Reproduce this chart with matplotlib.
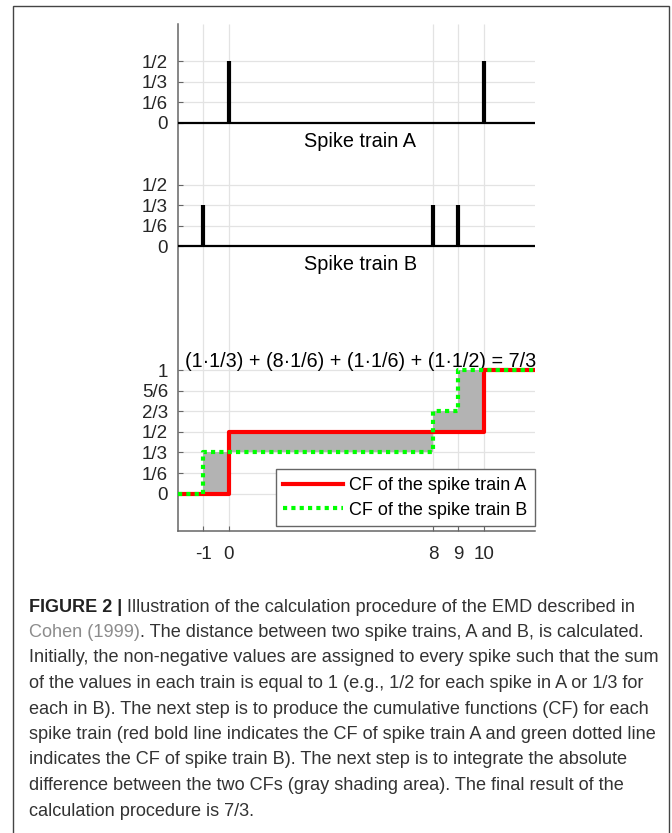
import numpy as np
import matplotlib.pyplot as plt
from matplotlib.patches import Rectangle

# spike times and the value given to each spike
spikes_a = [0, 10]
weights_a = [1/2, 1/2]
spikes_b = [-1, 8, 9]
weights_b = [1/3, 1/3, 1/3]

xticks = [-1, 0, 8, 9, 10]
xlim = (-2, 12)

# vertical offsets of the three stacked panels
base_a = 3
base_b = 2
spike_ticks = [0, 1/6, 1/3, 1/2]
spike_labels = ['0', '1/6', '1/3', '1/2']
cf_ticks = [0, 1/6, 1/3, 1/2, 2/3, 5/6, 1]
cf_labels = ['0', '1/6', '1/3', '1/2', '2/3', '5/6', '1']

formula = '(1\u00b71/3) + (8\u00b71/6) + (1\u00b71/6) + (1\u00b71/2) = 7/3'

caption = [
    [('FIGURE 2 |', 'bold', '#222222'), (' Illustration of the calculation procedure of the EMD described in', 'normal', '#333333')],
    [('Cohen (1999)', 'normal', '#8c8c8c'), ('. The distance between two spike trains, A and B, is calculated.', 'normal', '#333333')],
    [('Initially, the non-negative values are assigned to every spike such that the sum', 'normal', '#333333')],
    [('of the values in each train is equal to 1 (e.g., 1/2 for each spike in A or 1/3 for', 'normal', '#333333')],
    [('each in B). The next step is to produce the cumulative functions (CF) for each', 'normal', '#333333')],
    [('spike train (red bold line indicates the CF of spike train A and green dotted line', 'normal', '#333333')],
    [('indicates the CF of spike train B). The next step is to integrate the absolute', 'normal', '#333333')],
    [('difference between the two CFs (gray shading area). The final result of the', 'normal', '#333333')],
    [('calculation procedure is 7/3.', 'normal', '#333333')],
]

plt.rcParams['font.family'] = ['Liberation Sans', 'DejaVu Sans']

fig = plt.figure(figsize=(6.72, 8.33), dpi=100)
W, H = 672, 833
ax = fig.add_axes([177.7 / W, 1 - 530.7 / H, (535 - 177.7) / W, (530.7 - 24) / H])

# cumulative functions on shared breakpoints
xs = np.array(sorted(set([xlim[0], xlim[1]] + spikes_a + spikes_b)))
cf_a = np.array([np.sum(np.array(weights_a)[np.array(spikes_a) <= x]) for x in xs])
cf_b = np.array([np.sum(np.array(weights_b)[np.array(spikes_b) <= x]) for x in xs])

grid_c = '#e3e3e3'
# horizontal grid lines, per panel
for base, ticks in [(base_a, spike_ticks[1:]), (base_b, spike_ticks[1:]), (0, cf_ticks)]:
    ax.hlines([base + t for t in ticks], xlim[0], xlim[1], color=grid_c, lw=0.9, zorder=0)
ax.vlines(xticks, -0.3, 3.8, color=grid_c, lw=0.9, zorder=0)

# spike trains
ax.hlines([base_a, base_b], xlim[0], xlim[1], color='black', lw=1.6, zorder=3)
ax.vlines(spikes_a, base_a, base_a + np.array(weights_a), color='black', lw=3, zorder=3)
ax.vlines(spikes_b, base_b, base_b + np.array(weights_b), color='black', lw=3, zorder=3)
ax.text(5.15, base_a - 0.15, 'Spike train A', ha='center', va='center', fontsize=14.3)
ax.text(5.15, base_b - 0.15, 'Spike train B', ha='center', va='center', fontsize=14.3)

# cumulative functions
ax.fill_between(xs, cf_a, cf_b, step='post', color='#b3b3b3', lw=0, zorder=1)
ax.step(xs, cf_a, where='post', color='#ff0000', lw=3, label='CF of the spike train A', zorder=4)
ax.step(xs, cf_b, where='post', color='#00ff00', lw=3, linestyle=(0, (1, 1)),
        label='CF of the spike train B', zorder=5)
ax.text(5.16, 1.073, formula, ha='center', va='center', fontsize=14.2)

leg = ax.legend(loc='lower right', bbox_to_anchor=(1.0, 0.009), fontsize=13,
                fancybox=False, framealpha=1, edgecolor='#666666', handlelength=3.3,
                handletextpad=0.35, borderpad=0.42, labelspacing=0.42, borderaxespad=0)
leg.get_frame().set_linewidth(1)

ax.set_xlim(*xlim)
ax.set_ylim(-0.3, 3.8)
ax.set_xticks(xticks)
ax.set_xticklabels([str(t) for t in xticks])
yt = cf_ticks + [base_b + t for t in spike_ticks] + [base_a + t for t in spike_ticks]
ax.set_yticks(yt)
ax.set_yticklabels(cf_labels + spike_labels + spike_labels)
ax.tick_params(direction='in', length=3.5, width=0.8, color='#666666', labelsize=13.5,
               labelcolor='#262626')
ax.tick_params(axis='x', pad=11)
ax.tick_params(axis='y', pad=7)
for s in ['top', 'right']:
    ax.spines[s].set_visible(False)
for s in ['left', 'bottom']:
    ax.spines[s].set_color('#666666')
    ax.spines[s].set_linewidth(1.1)

# outer frame of the figure panel
fig.patches.append(Rectangle((13 / W, -0.05), (669 - 13) / W, 1.05 - 6 / H, transform=fig.transFigure,
                             fill=False, edgecolor='#444444', lw=1))

# caption: fit the widest line into the frame, then draw run by run
renderer = fig.canvas.get_renderer()
x0 = 29 / W
base_size = 13.5
widest = 0
for line in caption[2:]:
    t = fig.text(0, 0, ''.join(s for s, _, _ in line), fontsize=base_size)
    widest = max(widest, t.get_window_extent(renderer).width)
    t.remove()
size = base_size * 631 / widest

for i, line in enumerate(caption):
    y = 1 - (607 + i * 25.5) / H
    x = x0
    for text, weight, color in line:
        t = fig.text(x, y, text, fontsize=size if weight == 'normal' else 13, fontweight=weight,
                     color=color, va='center', ha='left')
        x += t.get_window_extent(renderer).width / W

fig.savefig('out.png', dpi=100)
